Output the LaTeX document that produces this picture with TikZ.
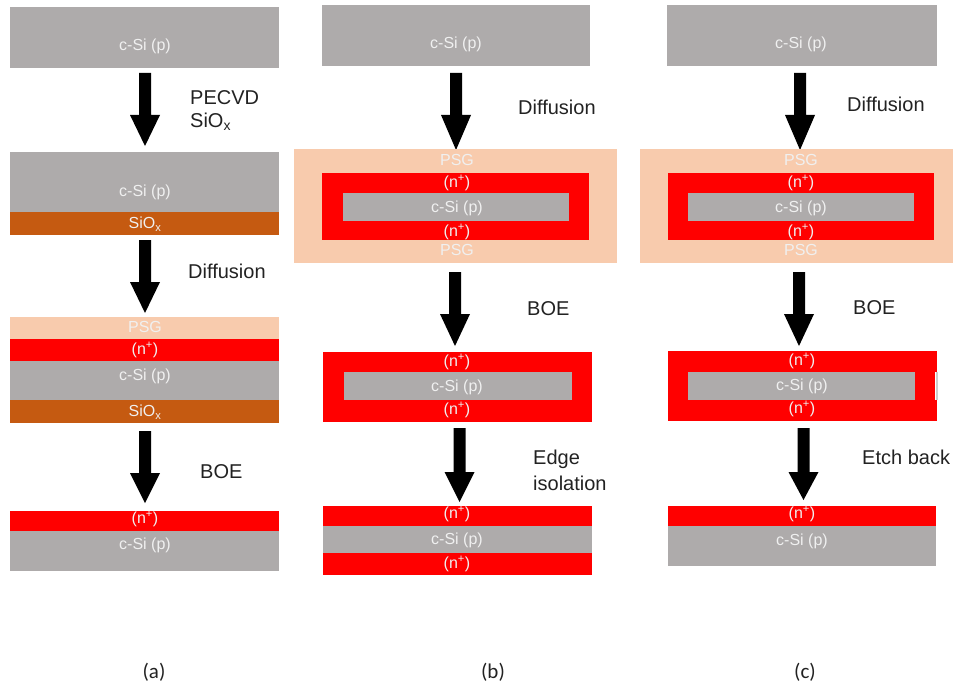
\documentclass[tikz,border=0pt]{standalone}
\usepackage{fontspec}
\setmainfont{Liberation Sans}
\newfontfamily\capfont{Carlito}
\definecolor{csi}{HTML}{AEABAB}
\definecolor{oxide}{HTML}{C55A11}
\definecolor{psg}{HTML}{F8CBAD}
\definecolor{nplus}{HTML}{FF0000}
\definecolor{intext}{HTML}{F0F0F0}
\definecolor{lbl}{HTML}{222222}
\newcommand{\np}{(n\textsuperscript{+})}
\newcommand{\sio}{SiO\textsubscript{x}}
% block arrow: center x, shaft top, head start, tip
\newcommand{\blockarrow}[4]{%
  \fill[black] (#1-6,#2) -- (#1+6,#2) -- (#1+6,#3) -- (#1+15,#3) -- (#1,#4)
     -- (#1-15,#3) -- (#1-6,#3) -- cycle;}
\tikzset{
  intxt/.style={text=intext, font=\fontsize{16}{18}\selectfont, inner sep=0pt},
  steplabel/.style={text=lbl, font=\fontsize{20}{23}\selectfont, anchor=west, inner sep=0pt},
  caplabel/.style={text=lbl, font=\capfont\fontsize{21}{24}\selectfont, inner sep=0pt}
}
\begin{document}
\begin{tikzpicture}[x=1pt,y=-1pt]
\useasboundingbox (0,0) rectangle (954,685);

% ---------------- column (a) ----------------
\fill[csi] (10,7) rectangle (279,68);
\node[intxt] (a1t) at (145,46) {c-Si (p)};
\blockarrow{145}{73}{115}{146}
\node[steplabel] (a1l) at (190,98) {PECVD};
\node[steplabel] (a1m) at (190,122) {\sio};

\fill[csi] (10,152) rectangle (279,212);
\fill[oxide] (10,212) rectangle (279,235);
\node[intxt] (a2t) at (145,192) {c-Si (p)};
\node[intxt] (a2o) at (145,224) {\sio};
\blockarrow{145}{240}{282}{313}
\node[steplabel] (a2l) at (188,271) {Diffusion};

\fill[psg] (10,317) rectangle (279,339);
\fill[nplus] (10,339) rectangle (279,361);
\fill[csi] (10,361) rectangle (279,400);
\fill[oxide] (10,400) rectangle (279,423);
\node[intxt] (a3p) at (145,327) {PSG};
\node[intxt] (a3n) at (145,350) {\np};
\node[intxt] (a3t) at (145,376) {c-Si (p)};
\node[intxt] (a3o) at (145,412) {\sio};
\blockarrow{145}{431}{473}{503}
\node[steplabel] (a3l) at (200,472) {BOE};

\fill[nplus] (10,511) rectangle (279,531);
\fill[csi] (10,531) rectangle (279,571);
\node[intxt] (a4n) at (145,519) {\np};
\node[intxt] (a4t) at (145,545) {c-Si (p)};

% ---------------- column (b) ----------------
\fill[csi] (322,5) rectangle (590,66);
\node[intxt] (b1t) at (456,44) {c-Si (p)};
\blockarrow{456}{73}{115}{150}
\node[steplabel] (b1l) at (518,107) {Diffusion};

\fill[psg] (294,149) rectangle (617,263);
\fill[nplus] (322,173) rectangle (589,240);
\fill[csi] (343,193) rectangle (569,221);
\node[intxt] (b2p) at (457,160) {PSG};
\node[intxt] (b2n) at (457,183) {\np};
\node[intxt] (b2t) at (457,208) {c-Si (p)};
\node[intxt] (b2m) at (457,232) {\np};
\node[intxt] (b2q) at (457,250) {PSG};
\blockarrow{455}{272}{314}{346}
\node[steplabel] (b2l) at (527,309) {BOE};

\fill[nplus] (323,352) rectangle (592,422);
\fill[csi] (344,372) rectangle (572,400);
\node[intxt] (b3n) at (457,362) {\np};
\node[intxt] (b3t) at (457,387) {c-Si (p)};
\node[intxt] (b3m) at (457,410) {\np};
\blockarrow{459.5}{428}{472}{502}
\node[steplabel] (b3l) at (533,459) {Edge};
\node[steplabel] (b3k) at (533,483) {isolation};

\fill[nplus] (323,506) rectangle (592,526);
\fill[csi] (323,526) rectangle (592,553);
\fill[nplus] (323,553) rectangle (592,575);
\node[intxt] (b4n) at (457,514) {\np};
\node[intxt] (b4t) at (457,540) {c-Si (p)};
\node[intxt] (b4m) at (457,564) {\np};

% ---------------- column (c) ----------------
\fill[csi] (667,5) rectangle (937,66);
\node[intxt] (c1t) at (801,44) {c-Si (p)};
\blockarrow{800}{73}{115}{150}
\node[steplabel] (c1l) at (847,104) {Diffusion};

\fill[psg] (640,149) rectangle (953,263);
\fill[nplus] (668,173) rectangle (934,240);
\fill[csi] (688,193) rectangle (914,221);
\node[intxt] (c2p) at (801,160) {PSG};
\node[intxt] (c2n) at (801,183) {\np};
\node[intxt] (c2t) at (801,208) {c-Si (p)};
\node[intxt] (c2m) at (801,232) {\np};
\node[intxt] (c2q) at (801,250) {PSG};
\blockarrow{799}{272}{314}{346}
\node[steplabel] (c2l) at (853,308) {BOE};

\fill[nplus] (668,351) rectangle (937,421);
\fill[csi] (688,372) rectangle (915,400);
\fill[white] (935,372) rectangle (936,400);
\fill[csi!60] (936,372) rectangle (937.5,400);
\node[intxt] (c3n) at (802,361) {\np};
\node[intxt] (c3t) at (802,386) {c-Si (p)};
\node[intxt] (c3m) at (802,409) {\np};
\blockarrow{803.5}{428}{472}{500}
\node[steplabel] (c3l) at (862,457) {Etch back};

\fill[nplus] (668,506) rectangle (936,526);
\fill[csi] (668,526) rectangle (936,566);
\node[intxt] (c4n) at (802,514) {\np};
\node[intxt] (c4t) at (802,541) {c-Si (p)};

% ---------------- captions ----------------
\node[caplabel] (capa) at (154,672) {(a)};
\node[caplabel] (capb) at (493,672) {(b)};
\node[caplabel] (capc) at (805,672) {(c)};
\end{tikzpicture}
\end{document}
